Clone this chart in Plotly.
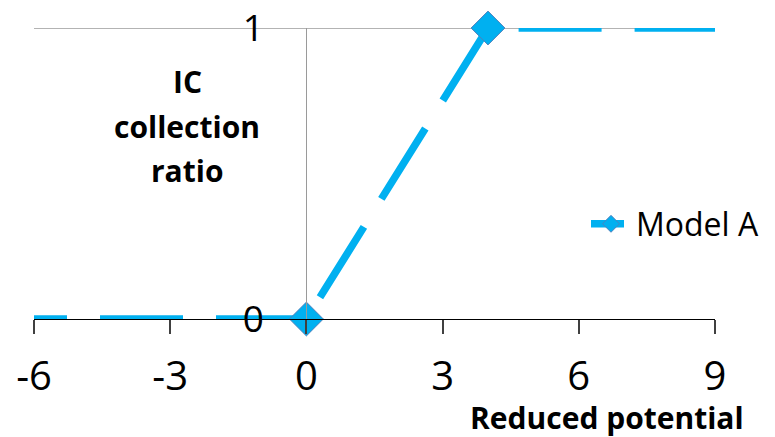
import plotly.graph_objects as go

x_vals = [-6, 0, 4, 9]
y_vals = [0, 0, 1, 1]
marker_sizes = [0, 26, 26, 0]
x_ticks = [-6, -3, 0, 3, 6, 9]
y_ticks = [0, 1]
series_name = "Model A"
y_title_lines = ["IC", "collection", "ratio"]
x_title = "Reduced potential"

FONT = "Open Sans"
# page has an 8px body margin; plot area sits at absolute x 34..715, y 28..319
W, H = 767, 429
PX0, PX1, PY0, PY1 = 34, 715, 28, 319


def px(X):
    return (X - PX0) / (PX1 - PX0)


def py(Y):
    return (PY1 - Y) / (PY1 - PY0)


dash_pattern = "33px,33px," + ",".join(["83px,33px"] * 8)

fig = go.Figure()
fig.add_trace(go.Scatter(
    x=x_vals, y=y_vals, name=series_name, mode="lines+markers",
    line=dict(color="#00B0F0", width=7.5, dash=dash_pattern),
    marker=dict(symbol="diamond", size=marker_sizes, color="#00B0F0", opacity=1,
                line=dict(color="#4F81BD", width=1)),
    cliponaxis=False,
))

fig.add_shape(type="line", xref="paper", yref="y", x0=0, x1=1, y0=1, y1=1,
              line=dict(color="#9A9A9A", width=1.5), layer="below")

fig.update_layout(
    width=W, height=H,
    margin=dict(l=PX0 - 8, r=W - (PX1 - 8), t=PY0 - 8, b=H - (PY1 - 8),
                autoexpand=False),
    paper_bgcolor="white", plot_bgcolor="white",
    font=dict(family=FONT, color="black"),
    showlegend=True,
    legend=dict(x=px(586), y=py(224), xanchor="left", yanchor="middle",
                font=dict(size=32, family=FONT), bgcolor="rgba(0,0,0,0)",
                itemwidth=40),
    xaxis=dict(range=[-6, 9], tickvals=x_ticks, ticktext=[str(t) for t in x_ticks],
               showgrid=False, zeroline=False, showline=True, linecolor="black",
               linewidth=1.2, ticks="outside", ticklen=14, tickcolor="#404040",
               tickwidth=1.5,
               tickfont=dict(size=40, family=FONT), ticklabelstandoff=8,
               anchor="y", automargin=False),
    yaxis=dict(range=[0, 1], tickvals=y_ticks, ticktext=[str(t) for t in y_ticks],
               showgrid=False, zeroline=False, showline=True, linecolor="#9A9A9A",
               linewidth=1.2, ticks="", anchor="free", position=0.4,
               tickfont=dict(size=37, family=FONT), ticklabelstandoff=35,
               ticklabeloverflow="allow",
               automargin=False),
)

for line_text, yc in zip(y_title_lines, [81, 126, 170]):
    fig.add_annotation(text="<b>" + line_text + "</b>", xref="paper", yref="paper",
                       x=px(187), y=py(yc), showarrow=False,
                       font=dict(size=30, family=FONT), xanchor="center",
                       yanchor="middle")
fig.add_annotation(text="<b>" + x_title + "</b>", xref="paper", yref="paper",
                   x=px(607), y=py(417), showarrow=False,
                   font=dict(size=30, family=FONT), xanchor="center", yanchor="middle")

fig.write_html("out.html")
